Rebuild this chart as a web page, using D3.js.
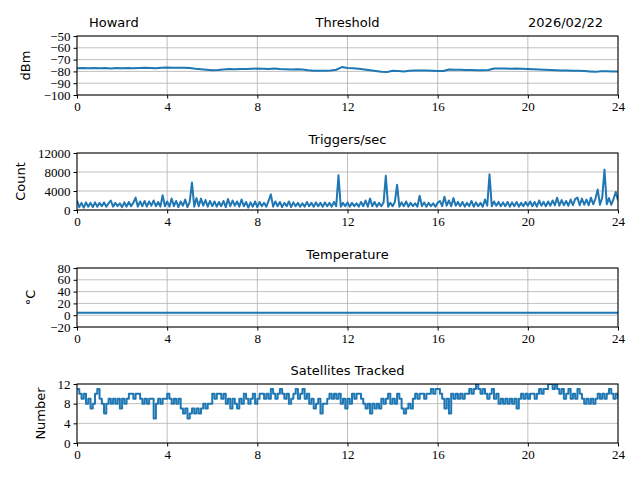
<!DOCTYPE html>
<html>
<head>
<meta charset="utf-8">
<script src="https://cdn.jsdelivr.net/npm/d3@7"></script>
<style>
  body { margin: 0; background: #fff; }
  svg text.num { font-family: "Liberation Serif", "Times New Roman", serif !important; }
</style>
</head>
<body>
<svg id="chart" width="640" height="480"></svg>
<script>
// header texts
const station = "Howard";
const dateLabel = "2026/02/22";

// x axis ticks (hours)
const hourTicks = [0, 4, 8, 12, 16, 20, 24];

// threshold (dBm), one value every 0.25 h
const thresholdStep = 0.25;
const threshold = [
  -77.3, -77.2, -77.4, -77.2, -77.3, -77.1, -77.5, -77.2, -77.3, -77.2, -77.4, -77.1, -77.0, -77.2, -77.3, -77.0,
  -76.8,
  -76.9, -77.0, -76.9, -77.2, -77.8, -78.2, -78.6, -79.0,
  -78.8, -78.3, -78.0, -78.1, -77.9, -78.0, -77.8, -77.6,
  -77.7, -77.9, -77.6, -78.0, -78.1, -78.3, -78.2, -78.4,
  -79.0, -79.4, -79.5, -79.5, -79.3, -78.6, -76.3, -77.2,
  -77.4, -77.8, -78.3, -79.0, -79.6, -80.2, -80.6, -79.4,
  -79.6, -80.1, -79.4, -79.2, -79.3, -79.2, -79.4, -79.7,
  -79.6, -78.4, -78.6, -78.7, -78.9, -78.8, -79.1, -79.0,
  -78.8, -77.6, -77.5, -77.6, -77.7, -77.6, -77.8, -77.9,
  -78.1, -78.4, -78.7, -78.9, -79.1, -79.3, -79.2, -79.4,
  -79.5, -79.7, -80.1, -80.4, -79.8, -79.9, -80.0, -80.1
];

// triggers per second, one value every 0.1 h
const triggerStep = 0.1;
const triggers = [
  2000, 600, 1500, 500, 1600, 700, 1500, 600, 1600, 700,
  1500, 800, 1600, 700, 1400, 2000, 700, 1500, 800, 1400,
  600, 1600, 700, 1700, 800, 1500, 2600, 700, 1800, 800,
  1900, 700, 1800, 900, 2000, 800, 1700, 700, 3100, 800,
  1800, 700, 2400, 800, 1900, 600, 1800, 900, 2200, 600,
  1700, 5800, 700, 2500, 800, 2400, 900, 2100, 700, 1900,
  800, 1800, 700, 1700, 800, 1900, 600, 2300, 800, 2000,
  900, 1800, 700, 2200, 800, 1700, 500, 1600, 700, 1800,
  600, 1700, 800, 1500, 700, 1900, 3300, 700, 1800, 800,
  1700, 600, 1500, 800, 1800, 600, 1600, 800, 1500, 700,
  1400, 700, 1700, 800, 1500, 700, 1600, 800, 1500, 700,
  1600, 800, 1500, 700, 1700, 800, 7300, 700, 1500, 800,
  1600, 700, 1500, 800, 1400, 700, 1700, 800, 2000, 700,
  2400, 800, 1700, 700, 1500, 800, 1600, 7200, 700, 1500,
  800, 1700, 5300, 700, 1600, 800, 1800, 700, 1500, 800,
  1400, 700, 3000, 800, 1600, 700, 1500, 800, 1400, 700,
  1500, 1900, 800, 2800, 900, 2000, 800, 2500, 900, 1700,
  800, 1700, 700, 1500, 800, 1900, 700, 1600, 800, 1500,
  700, 2200, 900, 7500, 800, 1800, 900, 1700, 800, 1600,
  800, 1700, 700, 1600, 800, 1700, 700, 1500, 800, 1700,
  900, 1800, 800, 1700, 700, 2000, 900, 1700, 800, 1800,
  900, 2000, 1000, 2600, 900, 2100, 1000, 1900, 900, 2200,
  1000, 2300, 2600, 1000, 2400, 1100, 2200, 1000, 2600, 1200,
  2400, 4300, 1100, 2600, 8500, 1200, 2500, 1100, 2300, 3800,
  2000
];

// temperature (deg C), hourly
const tempStep = 1;
const temperature = [
  4.2, 4.2, 4.2, 4.3, 4.3, 4.2, 4.2, 4.2, 4.2, 4.3, 4.3, 4.2, 4.2,
  4.2, 4.2, 4.3, 4.2, 4.2, 4.2, 4.2, 4.3, 4.2, 4.2, 4.2, 4.2
];

// satellites tracked, one value every 0.1 h
const satStep = 0.1;
const satellites = [
  11, 10, 9, 10, 8, 9, 7, 8, 10, 11,
  9, 8, 6, 8, 9, 8, 9, 8, 9, 7,
  9, 8, 9, 10, 10, 9, 10, 10, 9, 8,
  9, 8, 9, 9, 5, 8, 9, 8, 9, 9,
  10, 9, 8, 9, 8, 9, 7, 6, 7, 5,
  6, 7, 6, 7, 6, 7, 8, 7, 8, 8,
  10, 9, 10, 10, 9, 10, 8, 9, 7, 9,
  8, 7, 9, 8, 10, 9, 8, 9, 10, 8,
  9, 10, 10, 9, 10, 9, 11, 10, 9, 10,
  11, 10, 9, 10, 8, 9, 10, 11, 9, 10,
  11, 9, 10, 8, 9, 7, 8, 9, 6, 8,
  8, 9, 10, 9, 10, 9, 10, 8, 9, 7,
  9, 8, 10, 9, 10, 10, 9, 8, 7, 8,
  6, 8, 7, 8, 7, 9, 8, 9, 10, 8,
  9, 8, 10, 9, 7, 6, 7, 8, 7, 9,
  10, 9, 10, 10, 9, 10, 10, 11, 10, 11,
  11, 10, 9, 7, 9, 6, 10, 9, 10, 9,
  10, 9, 10, 10, 11, 10, 11, 12, 11, 10,
  11, 10, 9, 10, 11, 9, 10, 8, 9, 8,
  9, 8, 9, 8, 9, 7, 9, 10, 9, 10,
  9, 10, 10, 9, 10, 11, 10, 11, 11, 12,
  12, 11, 12, 11, 10, 11, 9, 10, 11, 9,
  10, 9, 11, 10, 9, 8, 9, 8, 9, 8,
  9, 10, 9, 10, 9, 10, 11, 10, 9, 10,
  9
];

const blue = "#1f77b4";
const left = 77, right = 618;
const sans = "'DejaVu Sans', sans-serif";

const svg = d3.select("#chart");

const panels = [
  {title: "Threshold", ylabel: "dBm", labelX: 25, top: 36, bottom: 95,
   domain: [-100, -50], ticks: [-100, -90, -80, -70, -60, -50],
   values: threshold, step: thresholdStep, curve: d3.curveLinear},
  {title: "Triggers/sec", ylabel: "Count", labelX: 20, top: 153, bottom: 210,
   domain: [0, 12000], ticks: [0, 4000, 8000, 12000],
   values: triggers, step: triggerStep, curve: d3.curveLinear},
  {title: "Temperature", ylabel: "°C", labelX: 30, top: 268, bottom: 327,
   domain: [-20, 80], ticks: [-20, 0, 20, 40, 60, 80],
   values: temperature, step: tempStep, curve: d3.curveLinear},
  {title: "Satellites Tracked", ylabel: "Number", labelX: 40, top: 384, bottom: 443,
   domain: [0, 12], ticks: [0, 4, 8, 12],
   values: satellites, step: satStep, curve: d3.curveStepAfter}
];

const x = d3.scaleLinear().domain([0, 24]).range([left, right]);

panels.forEach(function(p, i) {
  const y = d3.scaleLinear().domain(p.domain).range([p.bottom, p.top]);
  const g = svg.append("g");

  // grid
  g.append("g").selectAll("line").data(hourTicks).join("line")
    .attr("x1", d => x(d)).attr("x2", d => x(d))
    .attr("y1", p.top).attr("y2", p.bottom)
    .attr("stroke", "#b0b0b0").attr("stroke-width", 0.8);
  g.append("g").selectAll("line").data(p.ticks).join("line")
    .attr("x1", left).attr("x2", right)
    .attr("y1", d => y(d)).attr("y2", d => y(d))
    .attr("stroke", "#b0b0b0").attr("stroke-width", 0.8);

  // data line
  g.append("clipPath").attr("id", "clip" + i)
    .append("rect").attr("x", left).attr("y", p.top)
    .attr("width", right - left).attr("height", p.bottom - p.top);
  const line = d3.line()
    .x((d, k) => x(k * p.step))
    .y(d => y(d))
    .curve(p.curve);
  g.append("path").datum(p.values)
    .attr("clip-path", "url(#clip" + i + ")")
    .attr("d", line)
    .attr("fill", "none")
    .attr("stroke", blue)
    .attr("stroke-width", 2)
    .attr("stroke-linejoin", "round");

  // frame
  g.append("rect").attr("x", left).attr("y", p.top)
    .attr("width", right - left).attr("height", p.bottom - p.top)
    .attr("fill", "none").attr("stroke", "#000").attr("stroke-width", 1);

  // axes
  const xa = g.append("g").attr("transform", "translate(0," + p.bottom + ")")
    .call(d3.axisBottom(x).tickValues(hourTicks).tickSize(3.5).tickPadding(3).tickFormat(d3.format("d")));
  const ya = g.append("g").attr("transform", "translate(" + left + ",0)")
    .call(d3.axisLeft(y).tickValues(p.ticks).tickSize(3.5).tickPadding(3).tickFormat(d3.format("d")));
  [xa, ya].forEach(a => {
    a.attr("font-family", "Liberation Serif").attr("font-size", 13);
    a.select(".domain").remove();
    a.selectAll(".tick line").attr("stroke", "#000").attr("stroke-width", 1);
    a.selectAll(".tick text").attr("class", "num").attr("fill", "#000");
  });
  ya.selectAll(".tick text").attr("dy", "0.32em");

  // title and y label
  svg.append("text")
    .attr("x", (left + right) / 2).attr("y", p.top - 9)
    .attr("text-anchor", "middle")
    .style("font-family", sans).style("font-size", "13px")
    .text(p.title);
  svg.append("text")
    .attr("transform", "translate(" + p.labelX + "," + (p.top + p.bottom) / 2 + ") rotate(-90)")
    .attr("text-anchor", "middle").attr("dy", "0.35em")
    .style("font-family", sans).style("font-size", "13px")
    .text(p.ylabel);
});

svg.append("text").attr("x", 89).attr("y", 27)
  .style("font-family", sans).style("font-size", "13px").text(station);
svg.append("text").attr("x", 603).attr("y", 27).attr("text-anchor", "end")
  .style("font-family", sans).style("font-size", "13px").text(dateLabel);
</script>
</body>
</html>
